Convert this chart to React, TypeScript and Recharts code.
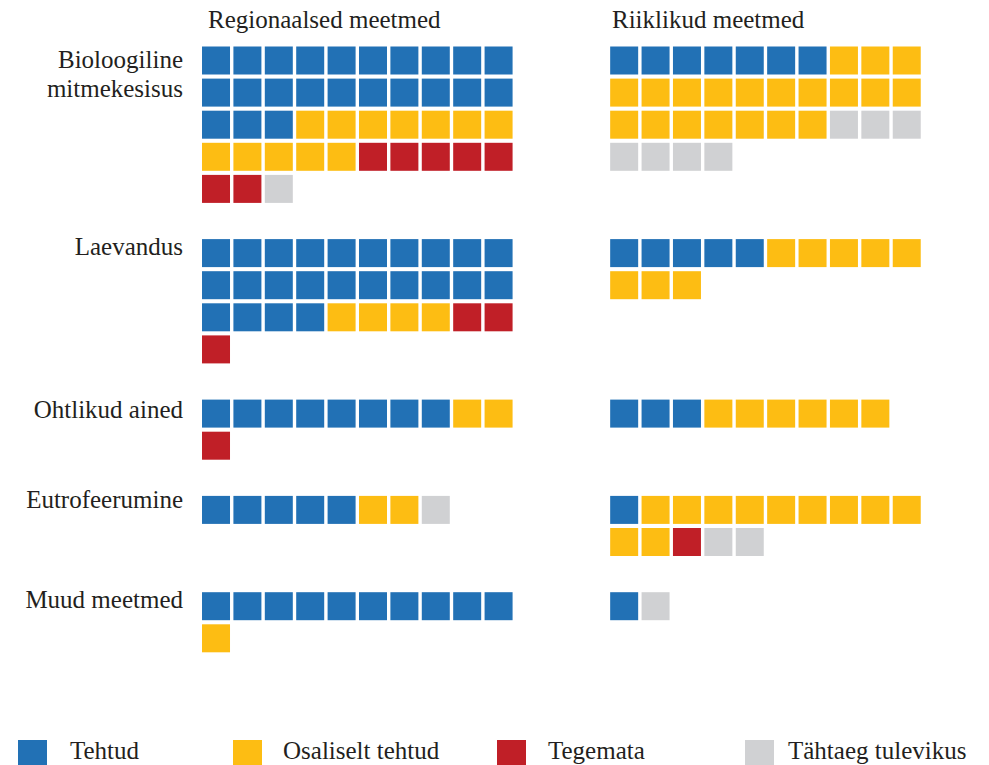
import { ScatterChart, Scatter, XAxis, YAxis, Legend } from 'recharts';

const GROUPS = ['Bioloogiline mitmekesisus', 'Laevandus', 'Ohtlikud ained', 'Eutrofeerumine', 'Muud meetmed'];
const STATUSES = ['Tehtud', 'Osaliselt tehtud', 'Tegemata', 'Tähtaeg tulevikus'];
const COLORS = ['#2271b5', '#fdbd13', '#c01f27', '#d0d1d3'];

// number of measures per group, in STATUSES order
const regional = [
  [23, 12, 7, 1],
  [24, 4, 3, 0],
  [8, 2, 1, 0],
  [5, 2, 0, 1],
  [10, 1, 0, 0],
];
const national = [
  [7, 20, 0, 7],
  [5, 8, 0, 0],
  [3, 6, 0, 0],
  [1, 11, 1, 2],
  [1, 0, 0, 1],
];

const PER_ROW = 10;
const NATIONAL_OFFSET = 13; // column where the second block starts

// layout: stack groups vertically, one empty row between them
const rowsOf = (counts: number[]) => Math.ceil(counts.reduce((a, b) => a + b, 0) / PER_ROW);
const groupStart: number[] = [];
let r0 = 0;
GROUPS.forEach((_, g) => {
  groupStart.push(r0);
  r0 += Math.max(rowsOf(regional[g]), rowsOf(national[g])) + 1;
});

const series = STATUSES.map(() => [] as { x: number; y: number }[]);
const place = (table: number[][], offset: number) => {
  table.forEach((counts, g) => {
    let k = 0;
    counts.forEach((n, s) => {
      for (let i = 0; i < n; i++, k++) {
        series[s].push({ x: offset + (k % PER_ROW), y: groupStart[g] + Math.floor(k / PER_ROW) });
      }
    });
  });
};
place(regional, 0);
place(national, NATIONAL_OFFSET);

const W = 989;
const H = 765;
const LEGEND_H = 27; // legend box is taken off the plot height
const FONT = "'Liberation Serif', 'DejaVu Serif', 'Times New Roman', serif";
const TEXT = '#231f20';
const txt = { fontFamily: FONT, fontSize: 25, fill: TEXT };

// row pitch 32.1px, first row centred at 60.5px
const Y_DOMAIN = [-60.5 / 32.1, (H - LEGEND_H - 60.5) / 32.1];

// label baselines (px) next to each group
const LABEL_Y = [68, 255, 418, 508, 608];
const LEGEND_SQ_X = [18, 233, 497, 745];
const LEGEND_TX_X = [70, 283, 548, 788];

const Square = (props: any) => {
  const { cx, cy, fill } = props;
  return <rect x={cx - 14} y={cy - 14} width={28} height={28} fill={fill} />;
};

const renderLegend = () => (
  <svg width={W} height={30} style={{ display: 'block' }}>
    {STATUSES.map((s, i) => (
      <g key={s}>
        <rect x={LEGEND_SQ_X[i]} y={2} width={29} height={30} fill={COLORS[i]} />
        <text x={LEGEND_TX_X[i]} y={21} style={txt}>{s}</text>
      </g>
    ))}
  </svg>
);

export default function App() {
  return (
    <div style={{ width: W, height: H, background: '#fff' }}>
      <style>{'body{margin:0}'}</style>
      <ScatterChart width={W} height={H} margin={{ top: 0, right: 0, bottom: 0, left: 0 }}>
        <XAxis type="number" dataKey="x" hide domain={[-6.88, 24.62]} allowDataOverflow />
        <YAxis type="number" dataKey="y" hide reversed domain={Y_DOMAIN} allowDataOverflow />
        {STATUSES.map((s, i) => (
          <Scatter key={s} name={s} data={series[i]} fill={COLORS[i]} shape={Square} isAnimationActive={false} />
        ))}
        <Legend content={renderLegend} wrapperStyle={{ position: 'absolute', left: 0, top: 738, width: W, height: LEGEND_H, overflow: 'hidden' }} />
        <text x={208} y={28} style={txt}>Regionaalsed meetmed</text>
        <text x={612} y={28} style={txt}>Riiklikud meetmed</text>
        {GROUPS.map((g, i) => {
          const words = i === 0 ? g.split(' ') : [g];
          return (
            <text key={g} x={183} y={LABEL_Y[i]} style={txt} textAnchor="end">
              {words.map((w, j) => (
                <tspan key={w} x={183} dy={j === 0 ? 0 : 29}>{w}</tspan>
              ))}
            </text>
          );
        })}
      </ScatterChart>
    </div>
  );
}
